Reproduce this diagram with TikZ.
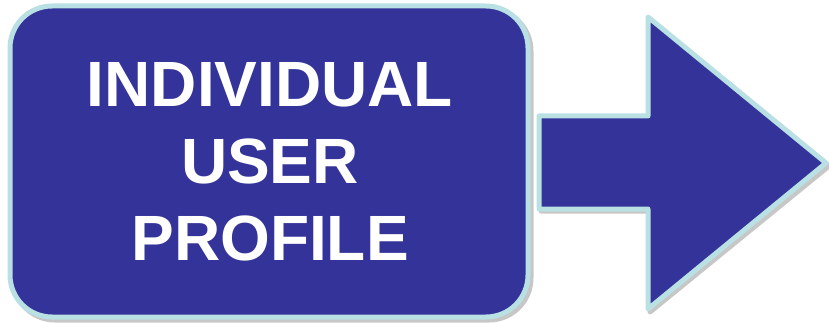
\documentclass[tikz,border=0pt]{standalone}
\usepackage{fontspec}
\setmainfont{Liberation Sans}
\begin{document}
\begin{tikzpicture}[x=1pt,y=-1pt,
  blockfill/.style={fill={rgb,255:red,51;green,51;blue,153}},
  rim/.style={draw={rgb,255:red,185;green,224;blue,227}, line width=5pt, line join=round},
  shade/.style={fill=black!22, draw=black!22, line width=5pt, line join=round},
  label/.style={text=white, font=\fontsize{64}{77}\selectfont\bfseries, align=center}]
\useasboundingbox (0,0) rectangle (829,323);
% shadows
\fill[shade, rounded corners=42pt] (13,9) rectangle (531,320);
\path[shade] (541,118) -- (650,118) -- (650,20) -- (829,166) -- (650,312) -- (650,211) -- (541,211) -- cycle;
% box
\path[blockfill, rim, rounded corners=42pt] (10,6) rectangle (528,317);
\node[label] (txt) at (270,162) {INDIVIDUAL\\USER\\PROFILE};
% arrow
\path[blockfill, rim] (539,116) -- (648,116) -- (648,17) -- (826,163) -- (648,309) -- (648,209) -- (539,209) -- cycle;
\end{tikzpicture}
\end{document}
